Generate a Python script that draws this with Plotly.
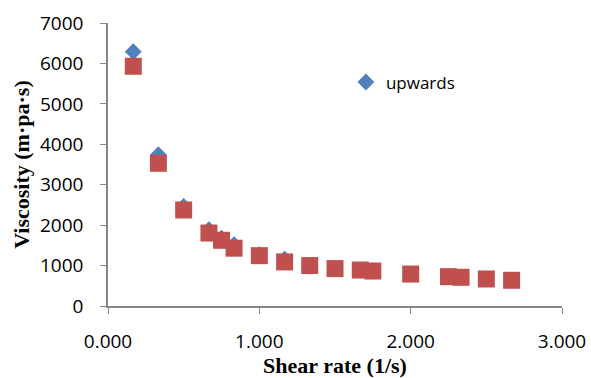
import plotly.graph_objects as go

shear_rate = [0.167, 0.333, 0.5, 0.667, 0.75, 0.833, 1.0, 1.167, 1.333, 1.5, 1.667, 1.75, 2.0, 2.25, 2.333, 2.5, 2.667]
visc_up = [6290, 3740, 2460, 1890, 1680, 1515, 1270, 1160, 1010, 935, 900, 875, 800, 735, 715, 675, 640]
visc_down = [5930, 3530, 2375, 1805, 1625, 1430, 1245, 1090, 1000, 925, 890, 865, 790, 725, 710, 668, 636]
x_ticks = [0, 1, 2, 3]
y_ticks = [0, 1000, 2000, 3000, 4000, 5000, 6000, 7000]

fig = go.Figure()
fig.add_trace(go.Scatter(
    x=shear_rate, y=visc_up, mode="markers", name="upwards",
    marker=dict(symbol="diamond", size=13, color="#4F81BD"),
))
fig.add_trace(go.Scatter(
    x=shear_rate, y=visc_down, mode="markers", name="downwards", showlegend=False,
    marker=dict(symbol="square", size=17, color="#C0504D"),
))

tick_font = dict(family="Open Sans, Lato, sans-serif", size=19, color="#000000")
title_font = dict(family="Liberation Serif, Times New Roman, serif", size=22, color="#000000", weight="bold")
fig.update_layout(
    width=591, height=378,
    margin=dict(l=108, r=29, t=23, b=72, autoexpand=False),
    paper_bgcolor="white", plot_bgcolor="white",
    showlegend=True,
    legend=dict(x=0.524, y=0.79, xanchor="left", yanchor="middle",
                font=dict(family="Open Sans, Lato, sans-serif", size=17, color="#000000"),
                bgcolor="rgba(0,0,0,0)"),
    xaxis=dict(range=[0, 3], tickvals=x_ticks, tickformat=".3f",
               showgrid=False, zeroline=False, showline=True, linecolor="#868686", linewidth=1.5,
               ticks="outside", ticklen=6, tickcolor="#868686", tickfont=tick_font,
               ticklabelstandoff=11,
               title=dict(text="Shear rate (1/s)", standoff=4, font=title_font)),
    yaxis=dict(range=[0, 7000], tickvals=y_ticks,
               showgrid=False, zeroline=False, showline=True, linecolor="#868686", linewidth=1.5,
               ticks="outside", ticklen=6, tickcolor="#868686", tickfont=tick_font,
               ticklabelstandoff=13,
               title=dict(text="Viscosity (m·pa·s)", standoff=4, font=title_font)),
)
fig.write_html("out.html", config={"displayModeBar": False},
               post_script="document.body.style.margin='0';")
